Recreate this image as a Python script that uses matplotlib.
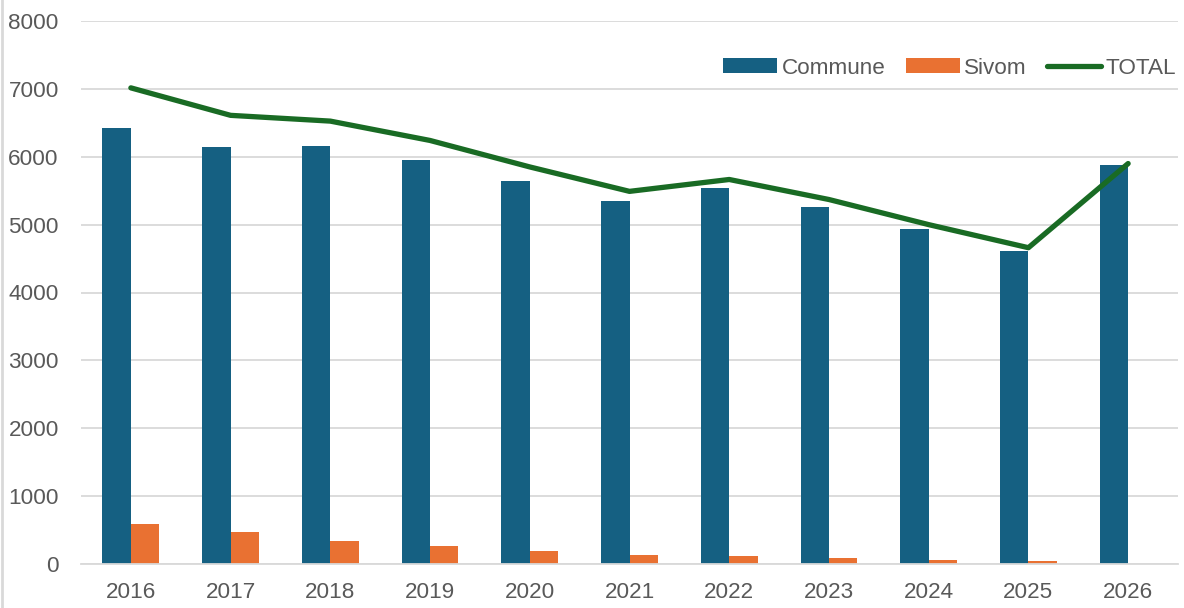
import matplotlib
matplotlib.use("Agg")
import matplotlib.pyplot as plt
import numpy as np

years = ["2016", "2017", "2018", "2019", "2020", "2021", "2022", "2023", "2024", "2025", "2026"]
commune = [6430, 6140, 6165, 5950, 5640, 5345, 5535, 5260, 4930, 4610, 5880]
sivom = [585, 465, 345, 270, 195, 130, 120, 95, 55, 45, 5]
total = [7015, 6610, 6525, 6240, 5850, 5490, 5665, 5370, 5000, 4660, 5900]

plt.rcParams['font.family'] = ['Liberation Sans', 'DejaVu Sans']
TXT = '#595959'
GRID = '#D9D9D9'
FS = 16.2

fig = plt.figure(figsize=(11.84, 6.08), dpi=100)
ax = fig.add_axes([81/1184, 1-564/608, (1178-81)/1184, (564-21)/608])

x = np.arange(len(years))
w = 0.285
b1 = ax.bar(x - w/2, commune, w, color='#156082', label='Commune', zorder=2)
b2 = ax.bar(x + w/2, sivom, w, color='#E97132', label='Sivom', zorder=2)
l1, = ax.plot(x, total, color='#196B24', lw=3.8, solid_capstyle='round',
              solid_joinstyle='round', label='TOTAL', zorder=3)

ax.set_xlim(-0.5, len(years) - 0.5)
ax.set_ylim(0, 8000)
ax.set_yticks(range(0, 8001, 1000))
ax.set_xticks(x)
ax.set_xticklabels(years)
ax.yaxis.grid(True, color=GRID, lw=1.3, zorder=0)
ax.set_axisbelow(True)
for s in ['top', 'right', 'left']:
    ax.spines[s].set_visible(False)
ax.spines['bottom'].set_color(GRID)
ax.spines['bottom'].set_linewidth(1.3)
ax.tick_params(axis='both', length=0, labelsize=FS, colors=TXT)
ax.tick_params(axis='y', pad=16)
ax.tick_params(axis='x', pad=13)

leg = fig.legend([b1, b2, l1], ['Commune', 'Sivom', 'TOTAL'],
                 loc='center right', bbox_to_anchor=(1176/1184, 1-68/608),
                 ncol=3, frameon=False, fontsize=FS, handlelength=2.4,
                 handleheight=0.6, handletextpad=0.2, columnspacing=0.9,
                 borderpad=0, borderaxespad=0)
for t in leg.get_texts():
    t.set_color(TXT)

fig.add_artist(plt.Line2D([1.5/1184, 1.5/1184], [0, 1], color=GRID, lw=2))

fig.savefig('out.png', dpi=100)
